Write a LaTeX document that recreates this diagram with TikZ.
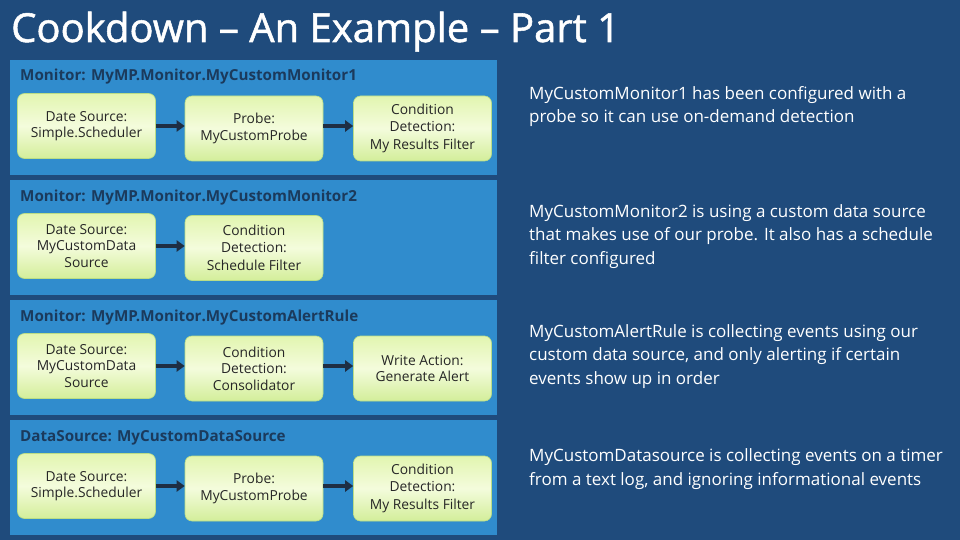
\documentclass[tikz,border=0pt]{standalone}
\usepackage{fontspec}
\setmainfont{Open Sans}
\newfontfamily\titlefont[FakeBold=1.3]{Open Sans}
\usetikzlibrary{arrows.meta}
\definecolor{bg}{HTML}{1F4B7C}
\definecolor{panel}{HTML}{308CCD}
\definecolor{hdr}{HTML}{1B3A5C}
\definecolor{boxtop}{HTML}{E2F5B0}
\definecolor{boxmid}{HTML}{F4FCDC}
\definecolor{boxbot}{HTML}{D3EE9A}
\definecolor{boxline}{HTML}{BADD86}
\definecolor{arr}{HTML}{1E2E44}
\tikzset{
  panelbox/.style={fill=panel, draw=none, anchor=north west, minimum width=487, minimum height=115, inner sep=0},
  hdrtext/.style={anchor=base west, inner sep=0, text=hdr, font=\fontsize{15.2}{16}\selectfont\bfseries},
  stepbox/.style={rounded corners=7pt, draw=boxline, line width=0.6pt, top color=boxtop, bottom color=boxbot, middle color=boxmid,
    minimum width=138, minimum height=65, align=center, text=black!85, inner sep=2pt,
    font=\fontsize{13.8}{16.5}\selectfont},
  flow/.style={draw=arr, line width=3.4pt, -{Triangle[length=8pt,width=11pt]}},
  note/.style={anchor=base west, inner sep=0, align=left, text=white, font=\fontsize{17}{23.5}\selectfont}
}
\begin{document}
\begin{tikzpicture}[x=1pt,y=-1pt]
\fill[bg] (0,0) rectangle (960,540);
\useasboundingbox (0,0) rectangle (960,540);
\node[anchor=base west, inner sep=0, text=white, font=\fontsize{40}{42}\titlefont] (title) at (11,42) {Cookdown – An Example – Part 1};

% panel 1
\node[panelbox] (p1) at (10,60) {};
\node[hdrtext] (h1) at (20,81) {Monitor: MyMP.Monitor.MyCustomMonitor1};
\node[stepbox] (a1) at (86.5,126) {Date Source:\\Simple.Scheduler};
\node[stepbox] (a2) at (254,128.5) {Probe:\\MyCustomProbe};
\node[stepbox] (a3) at (422.5,128.5) {Condition\\Detection:\\[2pt]My Results Filter};
\draw[flow] (a1.east) -- (a1.east -| a2.west);
\draw[flow] (a2.east |- a1.east) -- (a1.east -| a3.west);

% panel 2
\node[panelbox] (p2) at (10,180) {};
\node[hdrtext] (h2) at (20,201) {Monitor: MyMP.Monitor.MyCustomMonitor2};
\node[stepbox] (b1) at (86.5,246) {Date Source:\\MyCustomData\\Source};
\node[stepbox] (b2) at (254,248) {Condition\\Detection:\\[2pt]Schedule Filter};
\draw[flow] (b1.east) -- (b1.east -| b2.west);

% panel 3
\node[panelbox] (p3) at (10,300) {};
\node[hdrtext] (h3) at (20,321) {Monitor: MyMP.Monitor.MyCustomAlertRule};
\node[stepbox] (c1) at (86.5,366) {Date Source:\\MyCustomData\\Source};
\node[stepbox] (c2) at (254,368.5) {Condition\\Detection:\\Consolidator};
\node[stepbox] (c3) at (422.5,368.5) {Write Action:\\Generate Alert};
\draw[flow] (c1.east) -- (c1.east -| c2.west);
\draw[flow] (c2.east |- c1.east) -- (c1.east -| c3.west);

% panel 4
\node[panelbox] (p4) at (10,420) {};
\node[hdrtext] (h4) at (20,441) {DataSource: MyCustomDataSource};
\node[stepbox] (d1) at (86.5,486) {Date Source:\\Simple.Scheduler};
\node[stepbox] (d2) at (254,488.5) {Probe:\\MyCustomProbe};
\node[stepbox] (d3) at (422.5,488.5) {Condition\\Detection:\\[2pt]My Results Filter};
\draw[flow] (d1.east) -- (d1.east -| d2.west);
\draw[flow] (d2.east |- d1.east) -- (d1.east -| d3.west);

% notes (base = baseline of last line)
\node[note] (n1) at (529,123) {MyCustomMonitor1 has been configured with a\\probe so it can use on-demand detection};
\node[note] (n2) at (529,264) {MyCustomMonitor2 is using a custom data source\\that makes use of our probe. It also has a schedule\\filter configured};
\node[note] (n3) at (529,384) {MyCustomAlertRule is collecting events using our\\custom data source, and only alerting if certain\\events show up in order};
\node[note] (n4) at (529,485) {MyCustomDatasource is collecting events on a timer\\from a text log, and ignoring informational events};
\end{tikzpicture}
\end{document}
